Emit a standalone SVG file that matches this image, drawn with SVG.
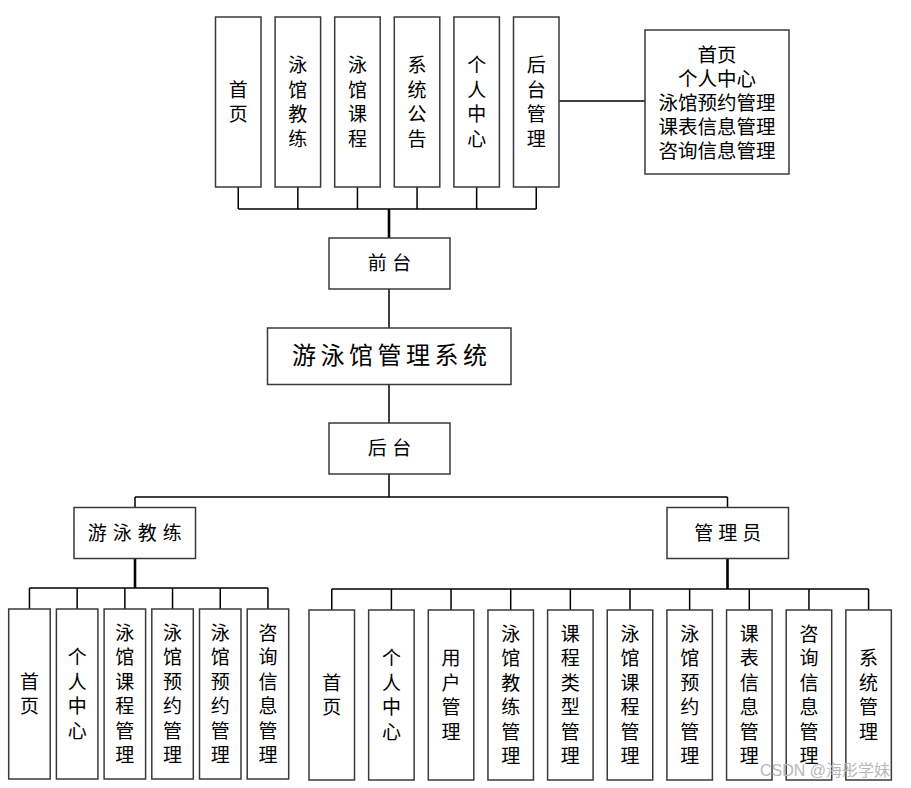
<svg xmlns="http://www.w3.org/2000/svg" width="911" height="788" viewBox="0 0 911 788">
<style>
.box{fill:#fff;stroke:#3a3a3a;stroke-width:1.5}
.t{font-family:"Liberation Serif","Noto Sans CJK SC",serif;font-size:19px;fill:#000;text-anchor:middle;dominant-baseline:central}
.big{font-size:24px}
.ln{stroke:#000;stroke-width:1.5;fill:none}
.tr{stroke:#000;stroke-width:2.6;fill:none}
.wm{font-family:"Liberation Sans","Noto Sans CJK SC",sans-serif;font-size:16px;fill:#b8b8b8}
</style>
<rect width="911" height="788" fill="#fff"/>
<g id="connectors">
<path class="ln" d="M238.25 187V209M297.85 187V209M357.45 187V209M417.05 187V209M476.65 187V209M536.25 187V209M238.25 209H536.25"/>
<path class="tr" d="M389 209V238"/>
<path class="ln" d="M559.3 101H645"/>
<path class="ln" d="M389 289V328M389 384.5V423M389 474V497M135 497H727.5M135 497V507.5M727.5 497V507.5"/>
<path class="tr" d="M135 558.5V588M727.5 558.5V589"/>
<path class="ln" d="M29.45 588H268M29.45 588V609M77.15 588V609M124.85 588V609M172.55 588V609M220.25 588V609M267.95 588V609"/>
<path class="ln" d="M331.75 589H868.6M331.75 589V610M391.4 589V610M451.05 589V610M510.7 589V610M570.35 589V610M630 589V610M689.65 589V610M749.3 589V610M808.95 589V610M868.6 589V610"/>
</g>
<g id="top1"><rect class="box" x="215.5" y="17" width="45.5" height="170"/><text class="t"><tspan x="238.25" y="89.8">首</tspan><tspan x="238.25" y="114.2">页</tspan></text></g>
<g id="top2"><rect class="box" x="275.1" y="17" width="45.5" height="170"/><text class="t"><tspan x="297.85" y="65.4">泳</tspan><tspan x="297.85" y="89.8">馆</tspan><tspan x="297.85" y="114.2">教</tspan><tspan x="297.85" y="138.6">练</tspan></text></g>
<g id="top3"><rect class="box" x="334.7" y="17" width="45.5" height="170"/><text class="t"><tspan x="357.45" y="65.4">泳</tspan><tspan x="357.45" y="89.8">馆</tspan><tspan x="357.45" y="114.2">课</tspan><tspan x="357.45" y="138.6">程</tspan></text></g>
<g id="top4"><rect class="box" x="394.3" y="17" width="45.5" height="170"/><text class="t"><tspan x="417.05" y="65.4">系</tspan><tspan x="417.05" y="89.8">统</tspan><tspan x="417.05" y="114.2">公</tspan><tspan x="417.05" y="138.6">告</tspan></text></g>
<g id="top5"><rect class="box" x="453.9" y="17" width="45.5" height="170"/><text class="t"><tspan x="476.65" y="65.4">个</tspan><tspan x="476.65" y="89.8">人</tspan><tspan x="476.65" y="114.2">中</tspan><tspan x="476.65" y="138.6">心</tspan></text></g>
<g id="top6"><rect class="box" x="513.5" y="17" width="45.5" height="170"/><text class="t"><tspan x="536.25" y="65.4">后</tspan><tspan x="536.25" y="89.8">台</tspan><tspan x="536.25" y="114.2">管</tspan><tspan x="536.25" y="138.6">理</tspan></text></g>
<g id="backendInfo"><rect class="box" x="645" y="30" width="144" height="144"/><text class="t" style="font-size:19.5px"><tspan x="717" y="55">首页</tspan><tspan x="717" y="79">个人中心</tspan><tspan x="717" y="103">泳馆预约管理</tspan><tspan x="717" y="127">课表信息管理</tspan><tspan x="717" y="151">咨询信息管理</tspan></text></g>
<g id="frontend"><rect class="box" x="329" y="238" width="121" height="51"/><text class="t" x="377.2 401.8" y="263.5">前台</text></g>
<g id="system"><rect class="box" x="267.5" y="328" width="243.5" height="56.5"/><text class="t big" x="304 332.5 361 389.5 418 446.5 475" y="356">游泳馆管理系统</text></g>
<g id="backend"><rect class="box" x="329" y="423" width="121" height="51"/><text class="t" x="377.2 401.8" y="448.5">后台</text></g>
<g id="coach"><rect class="box" x="74" y="507.5" width="121.5" height="51"/><text class="t" x="97.25 122.25 147.25 172.25" y="533">游泳教练</text></g>
<g id="admin"><rect class="box" x="667" y="507.5" width="121.5" height="51"/><text class="t" x="703.75 727.75 751.75" y="533">管理员</text></g>
<g id="c1"><rect class="box" x="8.7" y="609" width="41.5" height="170"/><text class="t"><tspan x="29.45" y="681.8">首</tspan><tspan x="29.45" y="706.2">页</tspan></text></g>
<g id="c2"><rect class="box" x="56.4" y="609" width="41.5" height="170"/><text class="t"><tspan x="77.15" y="657.4">个</tspan><tspan x="77.15" y="681.8">人</tspan><tspan x="77.15" y="706.2">中</tspan><tspan x="77.15" y="730.6">心</tspan></text></g>
<g id="c3"><rect class="box" x="104.1" y="609" width="41.5" height="170"/><text class="t"><tspan x="124.85" y="633">泳</tspan><tspan x="124.85" y="657.4">馆</tspan><tspan x="124.85" y="681.8">课</tspan><tspan x="124.85" y="706.2">程</tspan><tspan x="124.85" y="730.6">管</tspan><tspan x="124.85" y="755">理</tspan></text></g>
<g id="c4"><rect class="box" x="151.8" y="609" width="41.5" height="170"/><text class="t"><tspan x="172.55" y="633">泳</tspan><tspan x="172.55" y="657.4">馆</tspan><tspan x="172.55" y="681.8">预</tspan><tspan x="172.55" y="706.2">约</tspan><tspan x="172.55" y="730.6">管</tspan><tspan x="172.55" y="755">理</tspan></text></g>
<g id="c5"><rect class="box" x="199.5" y="609" width="41.5" height="170"/><text class="t"><tspan x="220.25" y="633">泳</tspan><tspan x="220.25" y="657.4">馆</tspan><tspan x="220.25" y="681.8">预</tspan><tspan x="220.25" y="706.2">约</tspan><tspan x="220.25" y="730.6">管</tspan><tspan x="220.25" y="755">理</tspan></text></g>
<g id="c6"><rect class="box" x="247.2" y="609" width="41.5" height="170"/><text class="t"><tspan x="267.95" y="633">咨</tspan><tspan x="267.95" y="657.4">询</tspan><tspan x="267.95" y="681.8">信</tspan><tspan x="267.95" y="706.2">息</tspan><tspan x="267.95" y="730.6">管</tspan><tspan x="267.95" y="755">理</tspan></text></g>
<g id="a1"><rect class="box" x="309" y="610" width="45.5" height="170"/><text class="t"><tspan x="331.75" y="682.8">首</tspan><tspan x="331.75" y="707.2">页</tspan></text></g>
<g id="a2"><rect class="box" x="368.65" y="610" width="45.5" height="170"/><text class="t"><tspan x="391.4" y="658.4">个</tspan><tspan x="391.4" y="682.8">人</tspan><tspan x="391.4" y="707.2">中</tspan><tspan x="391.4" y="731.6">心</tspan></text></g>
<g id="a3"><rect class="box" x="428.3" y="610" width="45.5" height="170"/><text class="t"><tspan x="451.05" y="658.4">用</tspan><tspan x="451.05" y="682.8">户</tspan><tspan x="451.05" y="707.2">管</tspan><tspan x="451.05" y="731.6">理</tspan></text></g>
<g id="a4"><rect class="box" x="487.95" y="610" width="45.5" height="170"/><text class="t"><tspan x="510.7" y="634">泳</tspan><tspan x="510.7" y="658.4">馆</tspan><tspan x="510.7" y="682.8">教</tspan><tspan x="510.7" y="707.2">练</tspan><tspan x="510.7" y="731.6">管</tspan><tspan x="510.7" y="756">理</tspan></text></g>
<g id="a5"><rect class="box" x="547.6" y="610" width="45.5" height="170"/><text class="t"><tspan x="570.35" y="634">课</tspan><tspan x="570.35" y="658.4">程</tspan><tspan x="570.35" y="682.8">类</tspan><tspan x="570.35" y="707.2">型</tspan><tspan x="570.35" y="731.6">管</tspan><tspan x="570.35" y="756">理</tspan></text></g>
<g id="a6"><rect class="box" x="607.25" y="610" width="45.5" height="170"/><text class="t"><tspan x="630" y="634">泳</tspan><tspan x="630" y="658.4">馆</tspan><tspan x="630" y="682.8">课</tspan><tspan x="630" y="707.2">程</tspan><tspan x="630" y="731.6">管</tspan><tspan x="630" y="756">理</tspan></text></g>
<g id="a7"><rect class="box" x="666.9" y="610" width="45.5" height="170"/><text class="t"><tspan x="689.65" y="634">泳</tspan><tspan x="689.65" y="658.4">馆</tspan><tspan x="689.65" y="682.8">预</tspan><tspan x="689.65" y="707.2">约</tspan><tspan x="689.65" y="731.6">管</tspan><tspan x="689.65" y="756">理</tspan></text></g>
<g id="a8"><rect class="box" x="726.55" y="610" width="45.5" height="170"/><text class="t"><tspan x="749.3" y="634">课</tspan><tspan x="749.3" y="658.4">表</tspan><tspan x="749.3" y="682.8">信</tspan><tspan x="749.3" y="707.2">息</tspan><tspan x="749.3" y="731.6">管</tspan><tspan x="749.3" y="756">理</tspan></text></g>
<g id="a9"><rect class="box" x="786.2" y="610" width="45.5" height="170"/><text class="t"><tspan x="808.95" y="634">咨</tspan><tspan x="808.95" y="658.4">询</tspan><tspan x="808.95" y="682.8">信</tspan><tspan x="808.95" y="707.2">息</tspan><tspan x="808.95" y="731.6">管</tspan><tspan x="808.95" y="756">理</tspan></text></g>
<g id="a10"><rect class="box" x="845.85" y="610" width="45.5" height="170"/><text class="t"><tspan x="868.6" y="658.4">系</tspan><tspan x="868.6" y="682.8">统</tspan><tspan x="868.6" y="707.2">管</tspan><tspan x="868.6" y="731.6">理</tspan></text></g>
<text class="wm" x="760" y="776">CSDN @海彤学妹</text>
</svg>
